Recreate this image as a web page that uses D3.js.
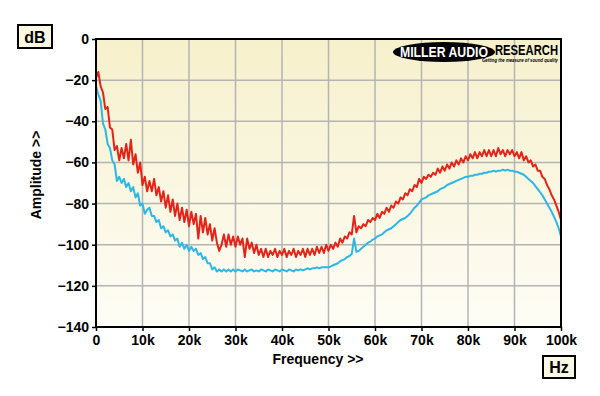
<!DOCTYPE html>
<meta charset="UTF-8">
<style>
body { margin: 0; background: #fff; }
text { font-family: "Liberation Sans", Arial, sans-serif; font-weight: bold; }
</style>
<body>
<script src="https://d3js.org/d3.v7.min.js"></script>
<script>

// frequency step between samples, in kHz
var stepK = 0.5;

var yTicks = [0, -20, -40, -60, -80, -100, -120, -140];
var xTicks = [0, 10, 20, 30, 40, 50, 60, 70, 80, 90, 100];
var xTickLabels = ["0", "10k", "20k", "30k", "40k", "50k", "60k", "70k", "80k", "90k", "100k"];

// red trace, dB, 0 to 100k every 0.5k
var redDb = [
  -19, -16, -23, -26, -34, -33, -43, -44, -54, -52,
  -59, -53, -58, -51, -59, -49, -61, -56, -65, -60,
  -71, -67, -74, -69, -74, -68, -76, -72, -79, -74,
  -82, -76, -84, -78, -86, -80, -88, -82, -89, -83,
  -91, -84, -90, -85, -97, -86, -94, -87, -95, -90,
  -98, -92, -99, -103, -100, -95, -101, -95, -100, -96,
  -101, -96, -100, -97, -106, -97, -102, -99, -104, -100,
  -105, -102, -106, -102, -106, -103, -105, -102, -106, -103,
  -105, -102, -106, -103, -105, -102, -106, -103, -105, -102,
  -106, -102, -105, -102, -105, -101, -104, -101, -104, -100,
  -103, -100, -102, -99, -101, -97, -99, -96, -97, -94,
  -95, -86, -94, -91, -92, -90, -91, -88, -89, -87,
  -88, -85, -87, -84, -85, -82, -84, -81, -82, -79,
  -80, -77, -78, -75, -76, -73, -74, -71, -72, -68,
  -70, -67, -68, -66, -67, -65, -66, -63, -65, -62,
  -64, -61, -63, -60, -62, -59, -61, -58, -60, -57,
  -59, -56, -58, -55, -58, -55, -57, -54, -57, -54,
  -57, -54, -57, -53, -56, -54, -57, -54, -56, -54,
  -57, -55, -58, -55, -59, -57, -60, -59, -62, -61,
  -64, -64, -67, -68, -71, -73, -76, -78, -81, -84,
  -88
];

// blue trace, dB, 0 to 100k every 0.5k
var blueDb = [
  -23, -27, -30, -41, -44, -51, -53, -59, -61, -69,
  -67, -70, -68, -72, -70, -74, -72, -77, -75, -81,
  -80, -85, -83, -82, -86, -86, -89, -88, -92, -91,
  -94, -93, -96, -95, -98, -97, -101, -99, -102, -100,
  -103, -101, -103, -102, -105, -104, -107, -106, -109, -109,
  -112, -111, -113, -112, -113, -112, -113, -112, -113, -112,
  -113, -112, -112.5, -113, -112, -113, -112.5, -112, -113, -112.5,
  -113, -112, -112.5, -113, -112, -112.5, -113, -112, -112.5, -113,
  -112, -112.5, -113, -112, -112.5, -113, -112, -112.5, -112, -112.5,
  -112, -111.5, -112, -111.5, -111.5, -111, -111.5, -111, -111, -111,
  -111, -110.5, -110, -109.5, -109, -108, -107.5, -107, -106, -105.5,
  -104.5, -97, -103.5, -103, -102, -101, -100, -99, -98.5, -97.5,
  -97, -96, -95.5, -95, -94, -93, -92.5, -92, -91, -90,
  -89, -88, -87.5, -87, -86, -85, -83.5, -82, -81, -79.5,
  -78, -77.5, -77, -76, -75.5, -75, -74.5, -74, -73, -72.5,
  -72, -71, -70.5, -70, -69.5, -69, -68.5, -68, -67.5, -67,
  -67, -66.5, -66.5, -66, -66, -65.5, -65.5, -65, -65, -64.5,
  -64.5, -64, -64.5, -64, -64, -63.5, -64, -63.5, -64, -64,
  -64.5, -64.5, -65, -65.5, -66, -67, -68, -69, -70, -71.5,
  -73, -74.5, -76, -78, -80, -82, -84, -86.5, -89, -92,
  -96
];

var W = 600, H = 396;
var pLeft = 96, pRight = 561, pTop = 39, pBottom = 327;

var svg = d3.select("body").append("svg")
    .attr("width", W)
    .attr("height", H);

var defs = svg.append("defs");
var grad = defs.append("linearGradient")
    .attr("id", "bg")
    .attr("x1", 0).attr("y1", 0).attr("x2", 0).attr("y2", 1);
grad.append("stop").attr("offset", "0%").attr("stop-color", "#f6f0cb");
grad.append("stop").attr("offset", "100%").attr("stop-color", "#fefdf6");

defs.append("clipPath").attr("id", "clip")
  .append("rect")
    .attr("x", pLeft).attr("y", pTop - 2)
    .attr("width", pRight - pLeft).attr("height", pBottom - pTop + 2);

var x = d3.scaleLinear().domain([0, 100]).range([pLeft, pRight]);
var y = d3.scaleLinear().domain([-140, 0]).range([pBottom, pTop]);

// plot background
svg.append("rect")
    .attr("x", pLeft).attr("y", pTop)
    .attr("width", pRight - pLeft).attr("height", pBottom - pTop)
    .attr("fill", "url(#bg)");

// grid
svg.append("g")
  .selectAll("line")
  .data(xTicks.slice(1, -1))
  .enter().append("line")
    .attr("x1", function(d) { return x(d); })
    .attr("x2", function(d) { return x(d); })
    .attr("y1", pTop).attr("y2", pBottom)
    .attr("stroke", "#b4b4b4")
    .attr("stroke-width", 1.5);

svg.append("g")
  .selectAll("line")
  .data(yTicks.slice(0, -1))
  .enter().append("line")
    .attr("y1", function(d) { return y(d); })
    .attr("y2", function(d) { return y(d); })
    .attr("x1", pLeft).attr("x2", pRight)
    .attr("stroke", "#b4b4b4")
    .attr("stroke-width", 1.5);

// axes
var yAxis = d3.axisLeft(y)
    .tickValues(yTicks)
    .tickSize(4)
    .tickPadding(3)
    .tickFormat(d3.format("d"));

var gy = svg.append("g")
    .attr("transform", "translate(" + pLeft + ",0)")
    .call(yAxis);
gy.select(".domain").remove();
gy.selectAll("text").style("font-size", "14px").attr("fill", "#000");
gy.selectAll("line").attr("stroke", "#000").attr("stroke-width", 1.5);

var xAxis = d3.axisBottom(x)
    .tickValues(xTicks)
    .tickSize(4)
    .tickPadding(4)
    .tickFormat(function(d, i) { return xTickLabels[i]; });

var gx = svg.append("g")
    .attr("transform", "translate(0," + pBottom + ")")
    .call(xAxis);
gx.select(".domain").remove();
gx.selectAll("text").style("font-size", "14px").attr("fill", "#000");
gx.selectAll("line").attr("stroke", "#000").attr("stroke-width", 1.5);

// traces
var line = d3.line()
    .x(function(d, i) { return x(i * stepK); })
    .y(function(d) { return y(d); });

var traces = svg.append("g").attr("clip-path", "url(#clip)");

traces.append("path")
    .datum(redDb)
    .attr("fill", "none")
    .attr("stroke", "#e42419")
    .attr("stroke-width", 2)
    .attr("stroke-linejoin", "round")
    .attr("d", line);

traces.append("path")
    .datum(blueDb)
    .attr("fill", "none")
    .attr("stroke", "#2cb7e6")
    .attr("stroke-width", 2)
    .attr("stroke-linejoin", "round")
    .attr("d", line);

// frame
svg.append("rect")
    .attr("x", pLeft).attr("y", pTop)
    .attr("width", pRight - pLeft).attr("height", pBottom - pTop)
    .attr("fill", "none")
    .attr("stroke", "#000")
    .attr("stroke-width", 2);

// unit boxes
function unitBox(bx, by, bw, bh, label) {
  svg.append("rect")
      .attr("x", bx).attr("y", by)
      .attr("width", bw).attr("height", bh)
      .attr("fill", "#faf7e2")
      .attr("stroke", "#000")
      .attr("stroke-width", 2);
  svg.append("text")
      .attr("x", bx + bw / 2).attr("y", by + bh / 2 + 6)
      .attr("text-anchor", "middle")
      .style("font-size", "16px")
      .text(label);
}
unitBox(18, 25, 34, 23, "dB");
unitBox(543, 356, 32, 22, "Hz");

// axis titles
svg.append("text")
    .attr("transform", "translate(41,175) rotate(-90)")
    .attr("text-anchor", "middle")
    .style("font-size", "14px")
    .text("Amplitude >>");

svg.append("text")
    .attr("x", 318).attr("y", 364)
    .attr("text-anchor", "middle")
    .style("font-size", "14px")
    .text("Frequency >>");

// logo
var logo = svg.append("g");
logo.append("ellipse")
    .attr("cx", 444).attr("cy", 52)
    .attr("rx", 51).attr("ry", 10)
    .attr("fill", "#000");
logo.append("text")
    .attr("x", 444).attr("y", 56.5)
    .attr("text-anchor", "middle")
    .attr("fill", "#fff")
    .attr("textLength", 88)
    .attr("lengthAdjust", "spacingAndGlyphs")
    .style("font-size", "14px")
    .text("MILLER AUDIO");
logo.append("text")
    .attr("x", 495).attr("y", 55)
    .attr("fill", "#000")
    .attr("textLength", 63)
    .attr("lengthAdjust", "spacingAndGlyphs")
    .style("font-size", "14px")
    .text("RESEARCH");
logo.append("text")
    .attr("x", 482).attr("y", 62)
    .attr("fill", "#000")
    .attr("textLength", 76)
    .attr("lengthAdjust", "spacingAndGlyphs")
    .style("font-size", "5px")
    .style("font-style", "italic")
    .text("Getting the measure of sound quality");

</script>
</body>
